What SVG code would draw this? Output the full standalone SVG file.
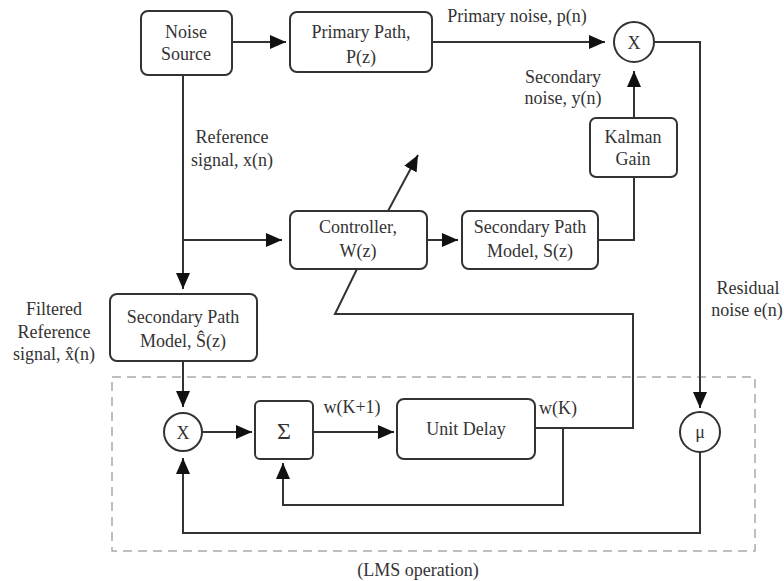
<svg xmlns="http://www.w3.org/2000/svg" width="784" height="581" viewBox="0 0 784 581">
<style>
  .box { fill: #fff; stroke: #333; stroke-width: 2; }
  .ln { fill: none; stroke: #333; stroke-width: 2; }
  .arr { marker-end: url(#ah); }
  .dash { fill: none; stroke: #aaa; stroke-width: 1.5; stroke-dasharray: 9 6; }
  text { font-family: "Liberation Serif", "Times New Roman", serif; font-size: 18px; fill: #333; text-anchor: middle; }
</style>
<defs>
  <marker id="ah" viewBox="0 0 16 14" refX="16" refY="7" markerWidth="16" markerHeight="14" orient="auto" markerUnits="userSpaceOnUse">
    <path d="M0,0 L16,7 L0,14 z" fill="#111"/>
  </marker>
</defs>
<rect width="784" height="581" fill="#fff"/>

<g id="lms-region">
  <rect class="dash" x="112" y="377" width="643" height="174"/>
  <text x="418" y="576">(LMS operation)</text>
</g>

<g id="connectors">
  <line class="ln arr" x1="232" y1="42" x2="286" y2="42"/>
  <line class="ln arr" x1="432" y1="42" x2="605" y2="42"/>
  <polyline class="ln arr" points="654,42 700,42 700,408"/>
  <line class="ln arr" x1="634" y1="118" x2="634" y2="71"/>
  <polyline class="ln" points="598,240 634,240 634,177"/>
  <line class="ln arr" x1="183" y1="75" x2="183" y2="289"/>
  <line class="ln arr" x1="183" y1="240" x2="282" y2="240"/>
  <line class="ln arr" x1="427" y1="240" x2="458" y2="240"/>
  <line class="ln arr" x1="388" y1="211" x2="418" y2="155"/>
  <polyline class="ln" points="357,269 335,314 633,314 633,428 535,428"/>
  <line class="ln arr" x1="183" y1="361" x2="183" y2="407"/>
  <line class="ln arr" x1="202" y1="432" x2="252" y2="432"/>
  <line class="ln arr" x1="313" y1="432" x2="394" y2="432"/>
  <polyline class="ln arr" points="563,428 563,505 283,505 283,463"/>
  <polyline class="ln arr" points="700,452 700,533 183,533 183,458"/>
</g>

<g id="noise-source">
  <rect class="box" x="141" y="11" width="91" height="64" rx="7"/>
  <text x="186" y="38">Noise</text>
  <text x="186" y="60">Source</text>
</g>
<g id="primary-path">
  <rect class="box" x="290" y="12" width="142" height="60" rx="7"/>
  <text x="361" y="38">Primary Path,</text>
  <text x="361" y="63">P(z)</text>
</g>
<g id="mult-top">
  <circle class="box" cx="634" cy="42" r="20"/>
  <text x="634" y="49">X</text>
</g>
<g id="kalman-gain">
  <rect class="box" x="590" y="118" width="87" height="59" rx="6"/>
  <text x="633" y="143">Kalman</text>
  <text x="633" y="165">Gain</text>
</g>
<g id="controller">
  <rect class="box" x="290" y="211" width="137" height="58" rx="7"/>
  <text x="358" y="233">Controller,</text>
  <text x="358" y="257">W(z)</text>
</g>
<g id="secondary-path">
  <rect class="box" x="462" y="211" width="136" height="58" rx="7"/>
  <text x="530" y="233">Secondary Path</text>
  <text x="530" y="257">Model, S(z)</text>
</g>
<g id="secondary-path-est">
  <rect class="box" x="110" y="294" width="147" height="67" rx="7"/>
  <text x="183" y="323">Secondary Path</text>
  <text x="183" y="347">Model, Ŝ(z)</text>
</g>
<g id="mult-bottom">
  <circle class="box" cx="183" cy="432" r="19"/>
  <text x="183" y="439">X</text>
</g>
<g id="sum">
  <rect class="box" x="255" y="401" width="58" height="58" rx="5"/>
  <text x="284" y="439" style="font-size:24px">Σ</text>
</g>
<g id="unit-delay">
  <rect class="box" x="397" y="399" width="138" height="60" rx="7"/>
  <text x="466" y="435">Unit Delay</text>
</g>
<g id="mu">
  <circle class="box" cx="700" cy="432" r="20"/>
  <text x="700" y="438">μ</text>
</g>

<g id="labels">
  <text x="517" y="22">Primary noise, p(n)</text>
  <text x="563" y="83">Secondary</text>
  <text x="563" y="104">noise, y(n)</text>
  <text x="232" y="143">Reference</text>
  <text x="232" y="166">signal, x(n)</text>
  <text x="54" y="315">Filtered</text>
  <text x="54" y="338">Reference</text>
  <text x="54" y="360">signal, x̂(n)</text>
  <text x="748" y="294">Residual</text>
  <text x="747" y="316">noise e(n)</text>
  <text x="352" y="413">w(K+1)</text>
  <text x="558" y="414">w(K)</text>
</g>
</svg>
